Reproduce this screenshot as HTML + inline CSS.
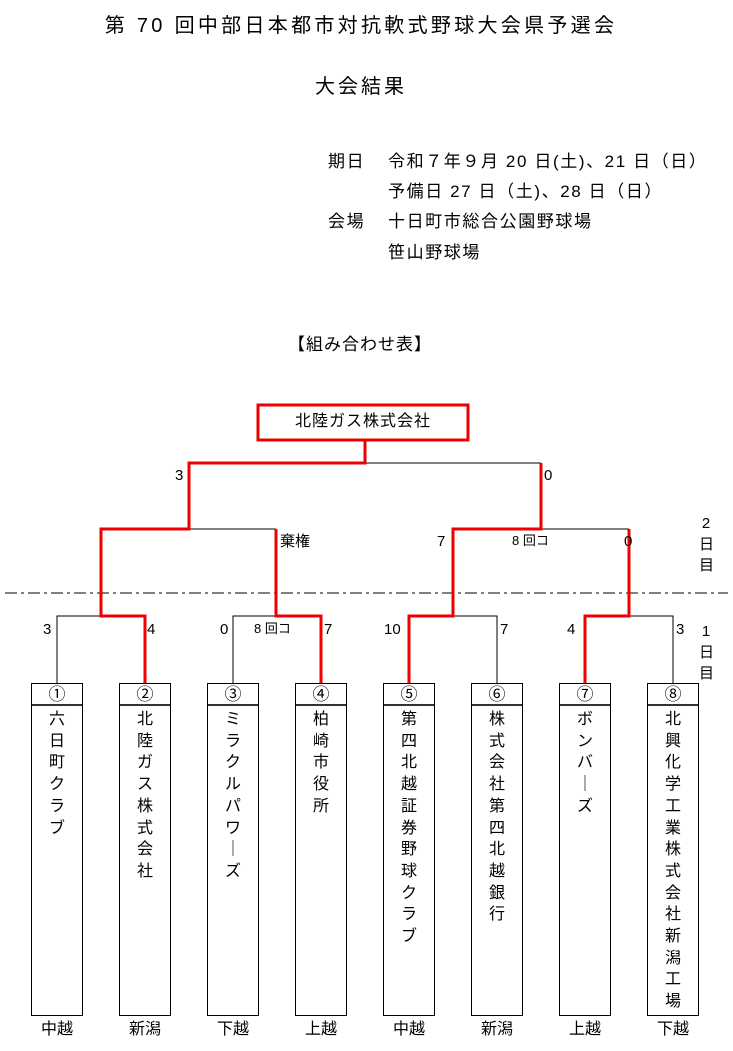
<!DOCTYPE html>
<html><head><meta charset="utf-8"><style>
body{margin:0;width:733px;height:1051px;background:#fff;position:relative;overflow:hidden;font-family:"Liberation Sans","Noto Sans CJK JP",sans-serif;color:#000}
.a{position:absolute;white-space:nowrap;line-height:1}
.box{position:absolute;top:683px;width:50px;height:331px;border:1px solid #000;background:#fff}
.num{height:20px;border-bottom:2px solid #333;text-align:center;font-size:17px;line-height:21px}
.nm{text-align:center;font-size:16px;line-height:21.7px;margin-top:3px}
.rg{position:absolute;top:1022px;width:52px;text-align:center;font-size:16px}
.s{font-size:15px}
.i{font-size:17px;letter-spacing:1.6px}
</style></head><body>
<div class="a" style="left:0;width:722px;text-align:center;top:16px;font-size:20px;letter-spacing:3.3px">第 70 回中部日本都市対抗軟式野球大会県予選会</div>
<div class="a" style="left:315px;top:77px;font-size:20px;letter-spacing:3px">大会結果</div>
<div class="a i" style="left:328px;top:153px">期日</div>
<div class="a i" style="left:388px;top:153px">令和７年９月 20 日(土)、21 日（日）</div>
<div class="a i" style="left:388px;top:183px">予備日 27 日（土)、28 日（日）</div>
<div class="a i" style="left:328px;top:213px">会場</div>
<div class="a i" style="left:388px;top:213px">十日町市総合公園野球場</div>
<div class="a i" style="left:388px;top:244px">笹山野球場</div>
<div class="a" style="left:288px;top:336px;font-size:17px;letter-spacing:1px">【組み合わせ表】</div>

<svg style="position:absolute;left:0;top:0" width="733" height="1051">
<line x1="5" y1="593" x2="728" y2="593" stroke="#333" stroke-width="1.3" stroke-dasharray="12,4,3,4"/>
<g stroke="#000" stroke-width="1" fill="none">
<polyline points="365,463 541,463"/>
<polyline points="189,529 276,529"/>
<polyline points="541,529 629,529"/>
<polyline points="145,616 57,616 57,683"/>
<polyline points="321,616 233,616 233,683"/>
<polyline points="453,616 497,616 497,683"/>
<polyline points="629,616 673,616 673,683"/>
</g>
<g stroke="#e00" stroke-width="3" fill="none" stroke-linejoin="miter">
<rect x="258" y="405" width="210" height="35"/>
<polyline points="365,441 365,463 189,463 189,529 101,529 101,616 145,616 145,683"/>
<polyline points="541,463 541,529 453,529 453,616 409,616 409,683"/>
<polyline points="276,529 276,616 321,616 321,683"/>
<polyline points="629,529 629,616 585,616 585,683"/>
</g>
</svg>
<div class="a" style="left:258px;width:210px;text-align:center;top:414px;font-size:16px;letter-spacing:1px">北陸ガス株式会社</div>

<div class="a s" style="left:175px;top:468px">3</div>
<div class="a s" style="left:544px;top:468px">0</div>
<div class="a s" style="left:280px;top:534px">棄権</div>
<div class="a s" style="left:437px;top:534px">7</div>
<div class="a s" style="left:512px;top:534px;font-size:13px">8 回コ</div>
<div class="a s" style="left:624px;top:534px">0</div>
<div class="a s" style="left:43px;top:622px">3</div>
<div class="a s" style="left:147px;top:622px">4</div>
<div class="a s" style="left:220px;top:622px">0</div>
<div class="a s" style="left:254px;top:622px;font-size:13px">8 回コ</div>
<div class="a s" style="left:324px;top:622px">7</div>
<div class="a s" style="left:384px;top:622px">10</div>
<div class="a s" style="left:500px;top:622px">7</div>
<div class="a s" style="left:567px;top:622px">4</div>
<div class="a s" style="left:676px;top:622px">3</div>
<div class="a s" style="left:699px;top:513px;line-height:21px;text-align:center;width:14px">2<br>日<br>目</div>
<div class="a s" style="left:699px;top:621px;line-height:21px;text-align:center;width:14px">1<br>日<br>目</div>

<div class="box" style="left:31px"><div class="num">①</div><div class="nm">六<br>日<br>町<br>ク<br>ラ<br>ブ</div></div>
<div class="box" style="left:119px"><div class="num">②</div><div class="nm">北<br>陸<br>ガ<br>ス<br>株<br>式<br>会<br>社</div></div>
<div class="box" style="left:207px"><div class="num">③</div><div class="nm">ミ<br>ラ<br>ク<br>ル<br>パ<br>ワ<br>｜<br>ズ</div></div>
<div class="box" style="left:295px"><div class="num">④</div><div class="nm">柏<br>崎<br>市<br>役<br>所</div></div>
<div class="box" style="left:383px"><div class="num">⑤</div><div class="nm">第<br>四<br>北<br>越<br>証<br>券<br>野<br>球<br>ク<br>ラ<br>ブ</div></div>
<div class="box" style="left:471px"><div class="num">⑥</div><div class="nm">株<br>式<br>会<br>社<br>第<br>四<br>北<br>越<br>銀<br>行</div></div>
<div class="box" style="left:559px"><div class="num">⑦</div><div class="nm">ボ<br>ン<br>バ<br>｜<br>ズ</div></div>
<div class="box" style="left:647px"><div class="num">⑧</div><div class="nm">北<br>興<br>化<br>学<br>工<br>業<br>株<br>式<br>会<br>社<br>新<br>潟<br>工<br>場</div></div>

<div class="rg a" style="left:31px">中越</div>
<div class="rg a" style="left:119px">新潟</div>
<div class="rg a" style="left:207px">下越</div>
<div class="rg a" style="left:295px">上越</div>
<div class="rg a" style="left:383px">中越</div>
<div class="rg a" style="left:471px">新潟</div>
<div class="rg a" style="left:559px">上越</div>
<div class="rg a" style="left:647px">下越</div>
</body></html>
